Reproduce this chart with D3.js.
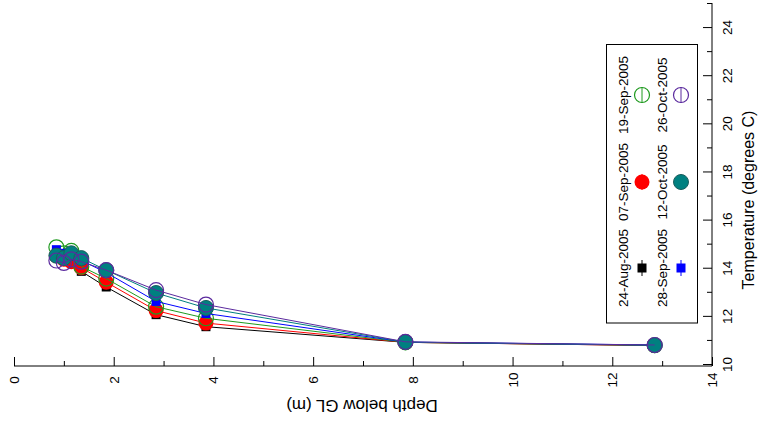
<!DOCTYPE html>
<html>
<head>
<meta charset="utf-8">
<script src="https://cdn.jsdelivr.net/npm/d3@7"></script>
<style>
  body { margin: 0; background: #fff; }
  text { font-family: "Liberation Sans", Arial, sans-serif; }
</style>
</head>
<body>
<div id="chart"></div>
<script>
// depth temperature profiles, drawn turned on their side

var Width = 759;
var Height = 428;

// data
var depths = [0.85, 1.0, 1.15, 1.35, 1.85, 2.85, 3.85, 7.85, 12.85];
var dates = ["24-Aug-2005", "07-Sep-2005", "19-Sep-2005",
             "28-Sep-2005", "12-Oct-2005", "26-Oct-2005"];
var tAug24 = [14.6, 14.5, 14.4, 13.85, 13.2, 12.05, 11.55, 10.9, 10.77];
var tSep07 = [14.5, 14.35, 14.25, 14.0, 13.4, 12.22, 11.7, 10.9, 10.77];
var tSep19 = [14.85, 14.6, 14.7, 14.05, 13.55, 12.38, 11.9, 10.9, 10.78];
var tSep28 = [14.75, 14.6, 14.6, 14.3, 13.8, 12.6, 12.1, 10.91, 10.79];
var tOct12 = [14.5, 14.4, 14.6, 14.4, 13.9, 12.95, 12.33, 10.91, 10.78];
var tOct26 = [14.3, 14.2, 14.35, 14.25, 13.9, 13.07, 12.47, 10.92, 10.79];
var depthTicks = [0, 2, 4, 6, 8, 10, 12, 14];
var depthMinor = [1, 3, 5, 7, 9, 11, 13];
var tempTicks = [10, 12, 14, 16, 18, 20, 22, 24];
var tempMinor = [11, 13, 15, 17, 19, 21, 23, 25];

// styles for each series
var styles = [
    { color: "#000000", shape: "square", fill: "#000000" },
    { color: "#ff0000", shape: "circle", fill: "#ff0000" },
    { color: "#1f9a1f", shape: "open", fill: "none" },
    { color: "#0000ff", shape: "square", fill: "#0000ff" },
    { color: "#007f7f", shape: "circle", fill: "#008080" },
    { color: "#5b2a9e", shape: "open", fill: "none" }
];

var series = [tAug24, tSep07, tSep19, tSep28, tOct12, tOct26].map(function (vals, i) {
    return {
        name: dates[i],
        style: styles[i],
        values: vals.map(function (t, j) { return { depth: depths[j], temp: t }; })
    };
});

var svg = d3.select("#chart").append("svg")
    .attr("width", Width)
    .attr("height", Height);

var xScale = d3.scaleLinear().domain([0, 14]).range([14, 712]);
var yScale = d3.scaleLinear().domain([10, 25]).range([364, 3]);
var axisY = 366;
var axisX = 712;
var labelSize = "13.5px";

// bottom axis (depth), ticks pointing inward
var xMajor = d3.axisBottom(xScale).tickValues(depthTicks).tickSize(-9).tickFormat(d3.format("d"));
var xMin = d3.axisBottom(xScale).tickValues(depthMinor).tickSize(-5).tickFormat("");

var gx = svg.append("g").attr("transform", "translate(0," + axisY + ")").call(xMajor);
svg.append("g").attr("transform", "translate(0," + axisY + ")").call(xMin)
    .select(".domain").remove();
gx.select(".domain").attr("d", "M" + xScale(0) + ",0H" + xScale(14));
gx.selectAll(".tick text")
    .attr("font-size", labelSize)
    .attr("font-family", "Liberation Sans, Arial, sans-serif")
    .attr("text-anchor", "middle")
    .attr("dominant-baseline", "central")
    .attr("y", 0)
    .attr("dy", 0)
    .attr("transform", "translate(0,14) rotate(-90)");

// right axis (temperature)
var yMajor = d3.axisRight(yScale).tickValues(tempTicks).tickSize(-9).tickFormat(d3.format("d"));
var yMin = d3.axisRight(yScale).tickValues(tempMinor).tickSize(-5).tickFormat("");

var gy = svg.append("g").attr("transform", "translate(" + axisX + ",0)").call(yMajor);
svg.append("g").attr("transform", "translate(" + axisX + ",0)").call(yMin)
    .select(".domain").remove();
gy.select(".domain").attr("d", "M0," + yScale(25) + "V" + axisY);
gy.selectAll(".tick text")
    .attr("font-size", labelSize)
    .attr("font-family", "Liberation Sans, Arial, sans-serif")
    .attr("text-anchor", "middle")
    .attr("dominant-baseline", "central")
    .attr("x", 0)
    .attr("dy", 0)
    .attr("transform", "translate(15,0) rotate(-90)");

// axis titles
svg.append("text")
    .attr("transform", "translate(362,405) rotate(180)")
    .attr("text-anchor", "middle")
    .attr("dominant-baseline", "central")
    .attr("font-size", "17px")
    .text("Depth below GL (m)");

svg.append("text")
    .attr("transform", "translate(748,200) rotate(-90)")
    .attr("text-anchor", "middle")
    .attr("dominant-baseline", "central")
    .attr("font-size", "16px")
    .text("Temperature (degrees C)");

// draw one symbol
function drawSymbol (g, style, x, y) {
    if (style.shape === "square") {
        g.append("rect")
            .attr("x", x - 4.5).attr("y", y - 4.5)
            .attr("width", 9).attr("height", 9)
            .attr("fill", style.fill);
    } else if (style.shape === "circle") {
        g.append("circle")
            .attr("cx", x).attr("cy", y).attr("r", 7.5)
            .attr("fill", style.fill)
            .attr("stroke", style.fill === "#008080" ? "#1d5e5e" : "none")
            .attr("stroke-width", 1);
    } else {
        g.append("circle")
            .attr("cx", x).attr("cy", y).attr("r", 7.5)
            .attr("fill", "none")
            .attr("stroke", style.color)
            .attr("stroke-width", 1.2);
    }
}

var line = d3.line()
    .x(function (d) { return xScale(d.depth); })
    .y(function (d) { return yScale(d.temp); });

// each series: line then its points
series.forEach(function (s) {
    var g = svg.append("g");
    g.append("path")
        .datum(s.values)
        .attr("d", line)
        .attr("fill", "none")
        .attr("stroke", s.style.color)
        .attr("stroke-width", 1);
    s.values.forEach(function (d) {
        drawSymbol(g, s.style, xScale(d.depth), yScale(d.temp));
    });
});

// legend, two columns of three entries
var legend = svg.append("g");
legend.append("rect")
    .attr("x", 606.5).attr("y", 44.5)
    .attr("width", 91).attr("height", 278.5)
    .attr("fill", "#fff")
    .attr("stroke", "#000")
    .attr("stroke-width", 1);

var entryY = [268, 182, 95];
series.forEach(function (s, i) {
    var col = Math.floor(i / 3);
    var row = i % 3;
    var tx = 623 + col * 39;
    var sx = 642 + col * 39;
    var cy = entryY[row];
    legend.append("text")
        .attr("transform", "translate(" + tx + "," + cy + ") rotate(-90)")
        .attr("text-anchor", "middle")
        .attr("dominant-baseline", "central")
        .attr("font-size", labelSize)
        .text(s.name);
    legend.append("line")
        .attr("x1", sx).attr("x2", sx)
        .attr("y1", cy - 8).attr("y2", cy + 8)
        .attr("stroke", s.style.color)
        .attr("stroke-width", 1);
    drawSymbol(legend, s.style, sx, cy);
});
</script>
</body>
</html>
